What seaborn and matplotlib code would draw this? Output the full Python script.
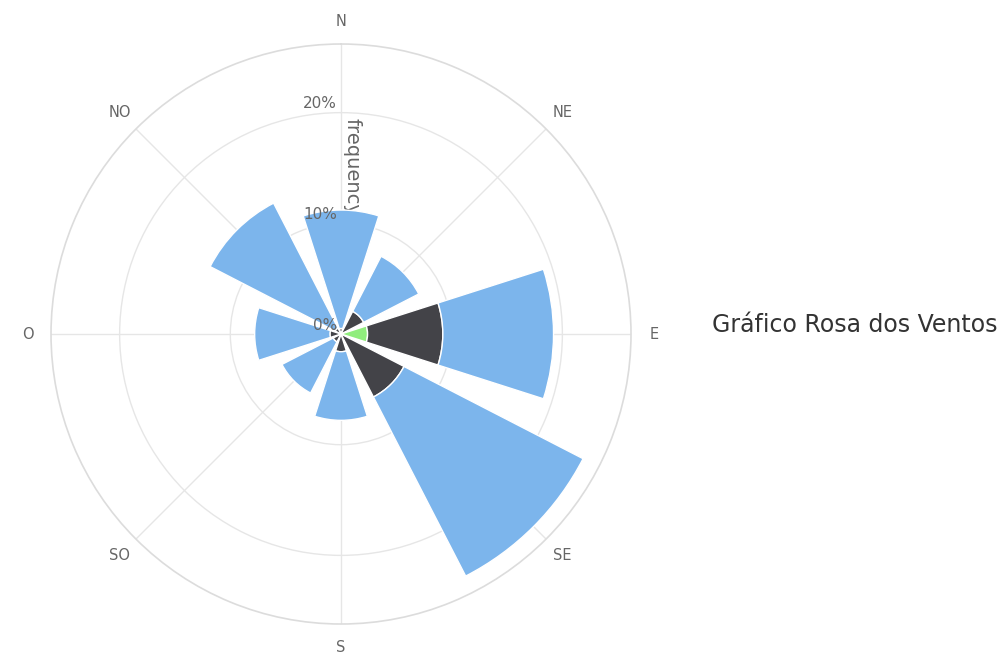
import numpy as np
import pandas as pd
import matplotlib
matplotlib.use('Agg')
import matplotlib.pyplot as plt
import seaborn as sns

# --- data (percent per direction, stacked segments) ---
directions = ['N', 'NE', 'E', 'SE', 'S', 'SO', 'O', 'NO']
inner_green = [0.0, 0.0, 2.4, 0.0, 0.0, 0.0, 0.0, 0.0]
middle_dark = [0.5, 2.3, 6.8, 6.4, 1.6, 0.8, 1.0, 0.6]
outer_blue = [10.7, 5.6, 10.0, 18.2, 6.2, 5.2, 6.8, 12.7]
radial_ticks = [0, 10, 20]
radial_max = 26.2
title_text = 'Gráfico Rosa dos Ventos'
axis_title = 'frequency'

sns.set_theme(style='white')
plt.rcParams['font.family'] = ['DejaVu Sans']

palette = {'blue': '#7cb5ec', 'dark': '#434348', 'green': '#90ed7d'}
grid_color = '#e6e6e6'
label_color = '#666666'

df = pd.DataFrame({
    'direction': directions,
    'green': inner_green,
    'dark': middle_dark,
    'blue': outer_blue,
})
df['theta'] = np.deg2rad(np.arange(len(df)) * 45.0)

fig = plt.figure(figsize=(10.08, 6.53), dpi=100)
ax = fig.add_axes([0.0506, 0.0444, 0.5754, 0.8882], projection='polar')
ax.set_theta_zero_location('N')
ax.set_theta_direction(-1)
ax.set_ylim(0, radial_max)

# grid: circles + spokes
ax.set_xticks(df['theta'])
ax.set_xticklabels([])
ax.set_yticks(radial_ticks[1:])
ax.set_yticklabels([])
ax.grid(True, color=grid_color, linewidth=1.0)
ax.spines['polar'].set_color('#dcdcdc')
ax.spines['polar'].set_linewidth(1.2)
ax.set_axisbelow(True)

# axis title behind the bars
ax.annotate(axis_title, xy=(0, 15.1), xytext=(8, 0), textcoords='offset points',
            rotation=-90, ha='center', va='center', fontsize=14,
            color=label_color, zorder=1)

# stacked bars (green inside, dark middle, blue outside)
width = np.deg2rad(35.5)
bottom = np.zeros(len(df))
for key in ['green', 'dark', 'blue']:
    ax.bar(df['theta'], df[key], width=width, bottom=bottom,
           color=palette[key], edgecolor='white', linewidth=1.0, zorder=2)
    bottom = bottom + df[key].values

# radial tick labels left of the N spoke
for t in radial_ticks:
    ax.annotate(f'{t}%', xy=(0, t), xytext=(-3, 1), textcoords='offset points',
                ha='right', va='bottom', fontsize=11, color=label_color, zorder=3)

# direction labels outside the circle
for th, name in zip(df['theta'], df['direction']):
    ax.text(th, radial_max * 313 / 290, name, ha='center', va='center',
            fontsize=10.5, color=label_color, clip_on=False)

fig.text(0.7065, 0.502, title_text, ha='left', va='center',
         fontsize=17, color='#333333')

fig.savefig('out.png', dpi=100, facecolor='white')
